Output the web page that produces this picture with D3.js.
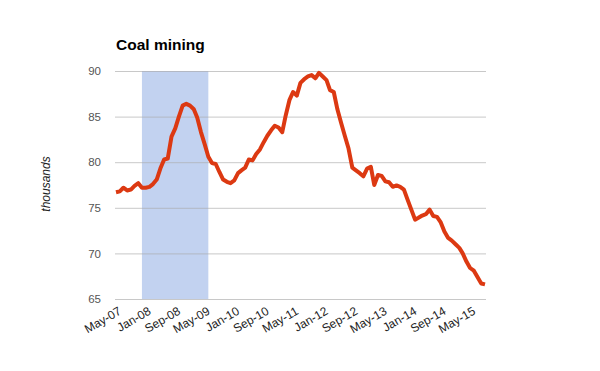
<!DOCTYPE html>
<html>
<head>
<meta charset="utf-8">
<script src="https://cdn.jsdelivr.net/npm/d3@7"></script>
<style>
  body { margin: 0; background: #fff; }
  svg { font-family: "Liberation Sans", Arial, sans-serif; }
</style>
</head>
<body>
<div id="chart"></div>
<script>
// monthly employment, thousands, May 2007 .. Sep 2015
var startMonth = "2007-05";
var values = [
  76.7, 76.8, 77.2, 76.9, 77.0, 77.4, 77.7, 77.2,
  77.2, 77.3, 77.6, 78.1, 79.3, 80.3, 80.4, 82.8, 83.7, 85.0, 86.2, 86.4,
  86.2, 85.8, 84.9, 83.3, 82.0, 80.6, 79.9, 79.8, 78.9, 78.1, 77.85, 77.7,
  78.0, 78.8, 79.1, 79.4, 80.3, 80.2, 80.9, 81.4, 82.2, 82.9, 83.5, 84.0,
  83.8, 83.3, 85.1, 86.8, 87.7, 87.3, 88.7, 89.1, 89.4, 89.55, 89.2, 89.8,
  89.4, 89.0, 87.9, 87.7, 85.8, 84.3, 82.9, 81.5, 79.4, 79.1, 78.8, 78.45,
  79.3, 79.5, 77.5, 78.6, 78.5, 77.9, 77.8, 77.3, 77.45, 77.3, 77.0, 75.9,
  74.8, 73.7, 73.9, 74.15, 74.3, 74.8, 74.1, 74.0, 73.4, 72.4, 71.7, 71.4,
  71.0, 70.6, 70.0, 69.1, 68.4, 68.1, 67.4, 66.7, 66.6
];
var recession = ["2007-12", "2009-06"];
var yTicks = [65, 70, 75, 80, 85, 90];
var xTickLabels = ["May-07", "Jan-08", "Sep-08", "May-09", "Jan-10", "Sep-10",
  "May-11", "Jan-12", "Sep-12", "May-13", "Jan-14", "Sep-14", "May-15"];

var parseMonth = d3.timeParse("%Y-%m");
var parseLabel = d3.timeParse("%b-%y");
var start = parseMonth(startMonth);
var data = values.map(function (v, i) {
  return { date: d3.timeMonth.offset(start, i), value: v };
});

var width = 600, height = 371;
var plotLeft = 116, plotRight = 485, plotTop = 71, plotBottom = 299;

var svg = d3.select("#chart").append("svg")
  .attr("width", width)
  .attr("height", height);

var x = d3.scaleTime()
  .domain(d3.extent(data, d => d.date))
  .range([plotLeft, plotRight]);

var y = d3.scaleLinear()
  .domain([65, 90])
  .range([plotBottom, plotTop]);

// recession band
svg.append("rect")
  .attr("x", x(parseMonth(recession[0])))
  .attr("y", y(90))
  .attr("width", x(parseMonth(recession[1])) - x(parseMonth(recession[0])))
  .attr("height", y(65) - y(90))
  .attr("fill", "#c2d2f0");

// gridlines + y labels
var yAxis = d3.axisLeft(y)
  .tickValues(yTicks)
  .tickSize(-(plotRight - plotLeft + 2))
  .tickPadding(14);

svg.append("g")
  .attr("transform", "translate(" + (plotLeft - 1) + ",0)")
  .call(yAxis)
  .call(g => g.select(".domain").remove())
  .call(g => g.selectAll("line").attr("stroke", "#aaa").attr("stroke-opacity", 0.65))
  .call(g => g.selectAll("text").attr("fill", "#555").style("font-size", "11.5px"));

// x labels
var xAxis = d3.axisBottom(x)
  .tickValues(xTickLabels.map(d => parseLabel(d)))
  .tickFormat(d3.timeFormat("%b-%y"))
  .tickSize(0);

svg.append("g")
  .attr("transform", "translate(0," + (plotBottom + 6) + ")")
  .call(xAxis)
  .call(g => g.select(".domain").remove())
  .call(g => g.selectAll("text")
    .attr("fill", "#222")
    .style("font-size", "12px")
    .attr("text-anchor", "end")
    .attr("dx", "0.05em")
    .attr("dy", "0.6em")
    .attr("transform", "rotate(-30)"));

// line
var line = d3.line()
  .x(d => x(d.date))
  .y(d => y(d.value));

svg.append("path")
  .datum(data)
  .attr("fill", "none")
  .attr("stroke", "#dc3912")
  .attr("stroke-width", 4)
  .attr("stroke-linejoin", "round")
  .attr("d", line);

// title
svg.append("text")
  .attr("x", plotLeft)
  .attr("y", 50)
  .style("font-size", "15.5px")
  .style("font-weight", "bold")
  .attr("fill", "#000")
  .text("Coal mining");

// y axis title
svg.append("text")
  .attr("transform", "translate(50,184) rotate(-90)")
  .attr("text-anchor", "middle")
  .style("font-size", "12px")
  .style("font-style", "italic")
  .attr("fill", "#222")
  .text("thousands");
</script>
</body>
</html>
